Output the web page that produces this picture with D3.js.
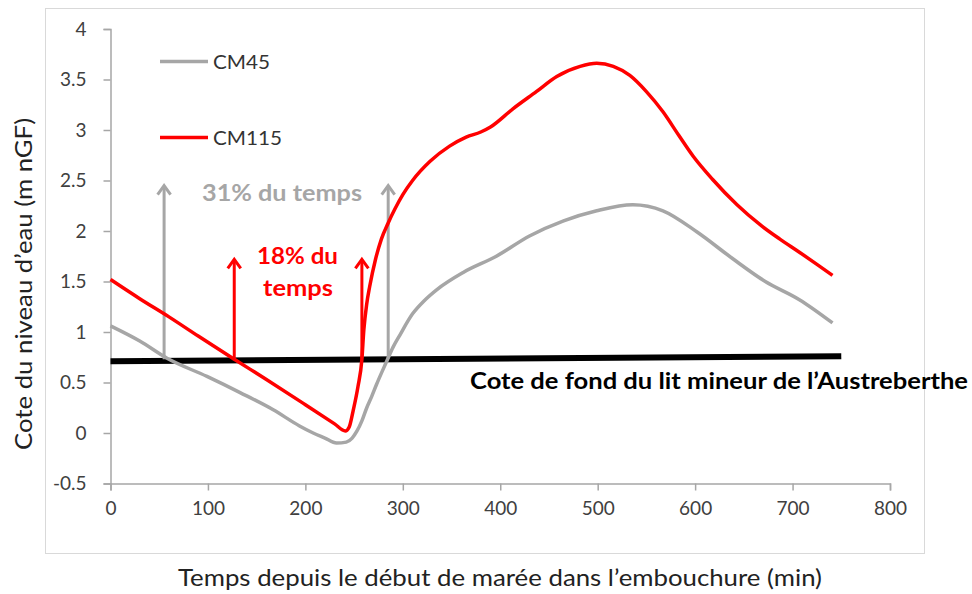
<!DOCTYPE html>
<html>
<head>
<meta charset="utf-8">
<script src="https://cdn.jsdelivr.net/npm/d3@7"></script>
<style>
  html, body { margin: 0; padding: 0; background: #ffffff; }
  svg { display: block; font-family: Lato, "Open Sans", sans-serif; }
</style>
</head>
<body>
<svg id="chart" width="972" height="594"></svg>
<script>
// ---- data ----
const timeCM115 = [0, 30, 60, 90, 127, 160, 200, 230, 241, 245, 249, 254, 258, 260, 263, 266, 272, 278, 285, 292, 300, 310, 328, 348, 365, 380, 390, 413, 437, 458, 482, 499, 516, 533, 550, 567, 583, 598, 618, 643, 667, 687, 707, 725, 741];
const levelCM115 = [1.52, 1.33, 1.15, 0.96, 0.73, 0.53, 0.28, 0.09, 0.02, 0.06, 0.22, 0.46, 0.73, 1.02, 1.28, 1.45, 1.72, 1.92, 2.08, 2.22, 2.36, 2.50, 2.69, 2.84, 2.93, 2.98, 3.03, 3.21, 3.38, 3.53, 3.63, 3.66, 3.63, 3.54, 3.38, 3.18, 2.95, 2.74, 2.51, 2.26, 2.06, 1.92, 1.79, 1.67, 1.56];

const timeCM45 = [0, 30, 58, 99, 133, 167, 194, 208, 220, 232, 242, 248, 253, 258, 263, 268, 273, 283, 290, 297, 310, 322, 335, 362, 396, 430, 465, 499, 536, 567, 602, 638, 672, 707, 741];
const levelCM45 = [1.06, 0.91, 0.74, 0.56, 0.40, 0.23, 0.07, 0.00, -0.05, -0.10, -0.09, -0.05, 0.02, 0.12, 0.25, 0.36, 0.48, 0.70, 0.85, 0.97, 1.18, 1.31, 1.42, 1.59, 1.75, 1.95, 2.10, 2.20, 2.26, 2.20, 1.99, 1.73, 1.50, 1.32, 1.09];

const bedTime = [0, 750];
const bedLevel = [0.71, 0.76];

const xTicks = [0, 100, 200, 300, 400, 500, 600, 700, 800];
const yTicks = [-0.5, 0, 0.5, 1, 1.5, 2, 2.5, 3, 3.5, 4];

const arrowsCM45 = [{t: 55, from: 0.73, to: 2.45}, {t: 285, from: 0.74, to: 2.45}];
const arrowsCM115 = [{t: 127, from: 0.72, to: 1.72}, {t: 258, from: 0.74, to: 1.72}];

const seriesNames = ["CM45", "CM115"];
const bedLabel = "Cote de fond du lit mineur de l\u2019Austreberthe";
const label31 = "31% du temps";
const label18 = ["18% du", "temps"];
const xTitle = "Temps depuis le d\u00e9but de mar\u00e9e dans l\u2019embouchure (min)";
const yTitle = "Cote du niveau d\u2019eau (m nGF)";

// ---- drawing ----
const svg = d3.select("#chart");
const gray = "#a6a6a6", red = "#ff0000";

// outer chart frame
svg.append("rect").attr("x", 45.5).attr("y", 8.5).attr("width", 879).attr("height", 545)
  .attr("fill", "#ffffff").attr("stroke", "#d9d9d9").attr("stroke-width", 1);

const x = d3.scaleLinear().domain([0, 800]).range([110.5, 890]);
const y = d3.scaleLinear().domain([-0.5, 4]).range([483.5, 29]);

// axes
const xAxis = svg.append("g").attr("transform", `translate(0,${y(-0.5)})`)
  .call(d3.axisBottom(x).tickValues(xTicks).tickSize(7).tickPadding(11).tickFormat(d3.format("d")));
const yAxis = svg.append("g").attr("transform", `translate(${x(0)},0)`)
  .call(d3.axisLeft(y).tickValues(yTicks).tickSize(7).tickPadding(17).tickFormat(d => String(d)));
[xAxis, yAxis].forEach(g => {
  g.select(".domain").attr("stroke", "#a6a6a6").attr("stroke-width", 1.5);
  g.selectAll(".tick line").attr("stroke", "#a6a6a6").attr("stroke-width", 1.5);
  g.selectAll(".tick text").attr("fill", "#404040").style("font-size", "19px").style("font-family", "Lato, sans-serif");
});

// axis titles
svg.append("text").attr("x", 500).attr("y", 586).attr("text-anchor", "middle")
  .attr("textLength", 644).attr("lengthAdjust", "spacingAndGlyphs")
  .style("font-size", "23px").attr("fill", "#222").text(xTitle);
svg.append("text").attr("transform", "translate(32,284) rotate(-90)").attr("text-anchor", "middle")
  .attr("textLength", 332).attr("lengthAdjust", "spacingAndGlyphs")
  .style("font-size", "23px").attr("fill", "#222").text(yTitle);

// bed level line
const bed = bedTime.map((t, i) => [t, bedLevel[i]]);
svg.append("path").datum(bed)
  .attr("d", d3.line().x(d => x(d[0])).y(d => y(d[1])))
  .attr("stroke", "#000").attr("stroke-width", 6).attr("fill", "none");
svg.append("text").attr("x", 470).attr("y", 389)
  .attr("textLength", 498).attr("lengthAdjust", "spacingAndGlyphs")
  .style("font-size", "22px").style("font-weight", "bold").attr("fill", "#000").text(bedLabel);

// series
const line = d3.line().x(d => x(d[0])).y(d => y(d[1])).curve(d3.curveMonotoneX);
const cm45 = timeCM45.map((t, i) => [t, levelCM45[i]]);
const cm115 = timeCM115.map((t, i) => [t, levelCM115[i]]);

// arrows
function drawArrow(a, color) {
  const g = svg.append("g").attr("stroke", color).attr("stroke-width", 3).attr("fill", "none");
  const xp = x(a.t), y0 = y(a.from), y1 = y(a.to);
  g.append("line").attr("x1", xp).attr("x2", xp).attr("y1", y0).attr("y2", y1 + 1);
  g.append("path").attr("d", `M${xp - 6.5},${y1 + 9} L${xp},${y1} L${xp + 6.5},${y1 + 9}`)
    .attr("stroke-linejoin", "miter");
}
arrowsCM45.forEach(a => drawArrow(a, gray));
arrowsCM115.forEach(a => drawArrow(a, red));

svg.append("path").datum(cm45).attr("d", line)
  .attr("stroke", gray).attr("stroke-width", 3.5).attr("fill", "none").attr("stroke-linejoin", "round");
svg.append("path").datum(cm115).attr("d", line)
  .attr("stroke", red).attr("stroke-width", 3.5).attr("fill", "none").attr("stroke-linejoin", "round");

// annotations
svg.append("text").attr("x", 202).attr("y", 201)
  .attr("textLength", 160).attr("lengthAdjust", "spacingAndGlyphs")
  .style("font-size", "23px").style("font-weight", "bold").attr("fill", gray).text(label31);
svg.append("text").attr("x", 257).attr("y", 264)
  .attr("textLength", 81).attr("lengthAdjust", "spacingAndGlyphs")
  .style("font-size", "23px").style("font-weight", "bold").attr("fill", red).text(label18[0]);
svg.append("text").attr("x", 263).attr("y", 296)
  .attr("textLength", 70).attr("lengthAdjust", "spacingAndGlyphs")
  .style("font-size", "23px").style("font-weight", "bold").attr("fill", red).text(label18[1]);

// legend
const legend = [{name: seriesNames[0], color: gray, yp: 61.5, w: 57}, {name: seriesNames[1], color: red, yp: 137.5, w: 69}];
legend.forEach(l => {
  svg.append("line").attr("x1", 160).attr("x2", 208).attr("y1", l.yp).attr("y2", l.yp)
    .attr("stroke", l.color).attr("stroke-width", 3.5);
  svg.append("text").attr("x", 213).attr("y", l.yp + 7)
    .attr("textLength", l.w).attr("lengthAdjust", "spacingAndGlyphs")
    .style("font-size", "20px").attr("fill", "#333").text(l.name);
});
</script>
</body>
</html>
